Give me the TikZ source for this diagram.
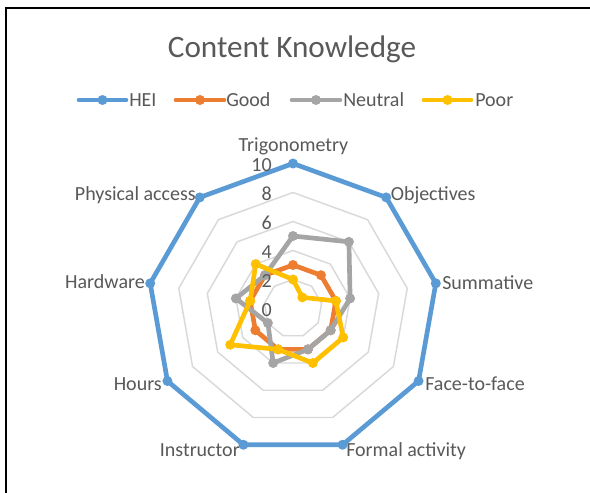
\documentclass[tikz,border=0pt]{standalone}
\usepackage{fontspec}
\setmainfont{Carlito}
\definecolor{hei}{HTML}{5B9BD5}
\definecolor{good}{HTML}{ED7D31}
\definecolor{neutral}{HTML}{A5A5A5}
\definecolor{poor}{HTML}{FFC000}
\definecolor{txt}{HTML}{595959}
\definecolor{gridc}{HTML}{D9D9D9}
\newcommand\radarseries[3]{%
  \foreach \val [count=\i from 0] in {#3}{\coordinate (#1\i) at ({40*\i-90}:{14.5*\val});}
  \draw[serie,#2] (#10) -- (#11) -- (#12) -- (#13) -- (#14) -- (#15) -- (#16) -- (#17) -- (#18) -- cycle;
  \foreach \i in {0,...,8}{\node[mk=#2] (#1m\i) at (#1\i) {};}
}
\begin{document}
\begin{tikzpicture}[x=0.75pt,y=-0.75pt,
  serie/.style={line width=3.5pt,line join=round},
  mk/.style={circle,fill=#1,draw=none,inner sep=0pt,minimum size=7.5pt},
  gridline/.style={draw=gridc,line width=1.1pt},
  lbl/.style={text=txt,font=\fontsize{15}{18}\selectfont,inner sep=0pt},
  ttl/.style={text=txt,font=\fontsize{23.4}{28}\selectfont,inner sep=0pt}]
\useasboundingbox (0,0) rectangle (590,493);
\fill[white] (0,0) rectangle (590,493);
\coordinate (fb) at (6,493);
\coordinate (fc) at (6,8);
\coordinate (fr) at (590,8);
\draw[black,line width=2pt] (fb) -- (fc) -- (fr);
% title
\node[ttl,anchor=base] (title) at (292,57) {Content Knowledge};
% legend
\coordinate (la1) at (79,100); \coordinate (lb1) at (126,100);
\coordinate (la2) at (176,100); \coordinate (lb2) at (224,100);
\coordinate (la3) at (292,100); \coordinate (lb3) at (340,100);
\coordinate (la4) at (424,100); \coordinate (lb4) at (471,100);
\draw[serie,hei,line cap=round] (la1) -- (lb1);
\node[mk=hei] (lm1) at (102.5,100) {};
\node[lbl,anchor=base west] (lt1) at (129,106.5) {HEI};
\draw[serie,good,line cap=round] (la2) -- (lb2);
\node[mk=good] (lm2) at (200,100) {};
\node[lbl,anchor=base west] (lt2) at (226,106.5) {Good};
\draw[serie,neutral,line cap=round] (la3) -- (lb3);
\node[mk=neutral] (lm3) at (316,100) {};
\node[lbl,anchor=base west] (lt3) at (343,106.5) {Neutral};
\draw[serie,poor,line cap=round] (la4) -- (lb4);
\node[mk=poor] (lm4) at (447.5,100) {};
\node[lbl,anchor=base west] (lt4) at (475,106.5) {Poor};
% radar
\begin{scope}[shift={(293,308.5)}]
\foreach \v in {2,4,6,8,10}{
  \draw[gridline] (-90:{14.5*\v}) \foreach \k in {1,...,8}{ -- ({40*\k-90}:{14.5*\v}) } -- cycle;
}
\radarseries{h}{hei}{10,10,10,10,10,10,10,10,10}
\radarseries{g}{good}{3,3,3,3,3,3,3,3,3}
\radarseries{n}{neutral}{5,6,4,3,3,4,2,4,3}
\radarseries{p}{poor}{2,1,3,4,4,3,5,3,4}
\end{scope}
% tick labels
\node[lbl,anchor=base east] (t10) at (272,171.5) {10};
\node[lbl,anchor=base east] (t8) at (272,200.5) {8};
\node[lbl,anchor=base east] (t6) at (272,229.5) {6};
\node[lbl,anchor=base east] (t4) at (272,258.5) {4};
\node[lbl,anchor=base east] (t2) at (272,287.5) {2};
\node[lbl,anchor=base east] (t0) at (272,316.5) {0};
% axis labels
\node[lbl,anchor=base] (a0) at (293.5,151) {Trigonometry};
\node[lbl,anchor=base west] (a1) at (390.5,200) {Objectives};
\node[lbl,anchor=base west] (a2) at (442,289) {Summative};
\node[lbl,anchor=base west] (a3) at (425,390.5) {Face-to-face};
\node[lbl,anchor=base west] (a4) at (346,456.5) {Formal activity};
\node[lbl,anchor=base east] (a5) at (240,456.5) {Instructor};
\node[lbl,anchor=base east] (a6) at (162,390) {Hours};
\node[lbl,anchor=base east] (a7) at (145,288.5) {Hardware};
\node[lbl,anchor=base east] (a8) at (196,200) {Physical access};
\end{tikzpicture}
\end{document}
